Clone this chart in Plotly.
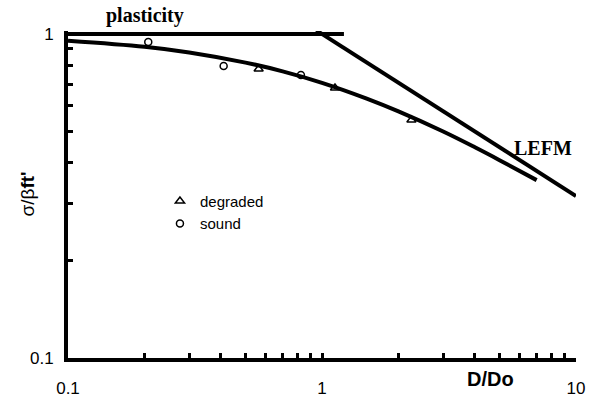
import plotly.graph_objects as go

# size-effect curve
curve_D = [0.1, 0.2, 0.3, 0.5, 0.7, 1.0, 1.5, 2.0, 3.0, 4.0, 5.0, 7.0]
curve_s = [0.953, 0.913, 0.877, 0.816, 0.767, 0.707, 0.632, 0.577, 0.500, 0.447, 0.408, 0.354]

# limit lines
plast_D = [0.1, 1.22]
plast_s = [1.0, 1.0]
lefm_D = [0.95, 10.0]
lefm_s = [1.026, 0.316]

# experimental points
sound_D = [0.207, 0.41, 0.826]
sound_s = [0.945, 0.797, 0.747]
degr_D = [0.563, 1.125, 2.25]
degr_s = [0.78, 0.681, 0.543]

# tick labels
x_tickvals = [0.1, 1, 10]
x_ticktext = ["0.1", "1", "10"]
y_tickvals = [0.1, 1]
y_ticktext = ["0.1", "1"]

fig = go.Figure()
line_style = dict(color="black", width=4)
fig.add_trace(go.Scatter(x=plast_D, y=plast_s, mode="lines", line=line_style,
                         showlegend=False, hoverinfo="skip"))
fig.add_trace(go.Scatter(x=lefm_D, y=lefm_s, mode="lines", line=line_style,
                         showlegend=False, hoverinfo="skip"))
fig.add_trace(go.Scatter(x=curve_D, y=curve_s, mode="lines",
                         line=dict(color="black", width=4, shape="spline"),
                         showlegend=False, hoverinfo="skip"))
fig.add_trace(go.Scatter(x=degr_D, y=degr_s, mode="markers", name="degraded",
                         marker=dict(symbol="triangle-up-open", size=8, color="black",
                                     line=dict(width=1.5, color="black"))))
fig.add_trace(go.Scatter(x=sound_D, y=sound_s, mode="markers", name="sound",
                         marker=dict(symbol="circle-open", size=7, color="black",
                                     line=dict(width=1.5, color="black"))))

top_ext = 3 / 324.0
minor_style = dict(ticks="inside", ticklen=5, tickwidth=3, tickcolor="black", showgrid=False)
fig.update_layout(
    width=596, height=404,
    margin=dict(l=68, r=20, t=31, b=46, autoexpand=False),
    plot_bgcolor="white", paper_bgcolor="white",
    font=dict(family="Liberation Sans, Arial", size=13, color="black"),
    legend=dict(x=0.181, y=0.53, xanchor="left", yanchor="top",
                bgcolor="rgba(0,0,0,0)", font=dict(size=15),
                itemwidth=30, tracegroupgap=0),
    xaxis=dict(type="log", range=[-1, 1], showgrid=False, zeroline=False, automargin=False,
               showline=True, linecolor="black", linewidth=4,
               ticks="inside", ticklen=5, tickwidth=3, tickcolor="black",
               tickvals=x_tickvals, ticktext=x_ticktext,
               minor=dict(tickvals=[0.2, 0.3, 0.4, 0.5, 0.6, 0.7, 0.8, 0.9,
                                    2, 3, 4, 5, 6, 7, 8, 9], **minor_style),
               tickfont=dict(size=17), ticklabelstandoff=12),
    yaxis=dict(type="log", range=[-1, top_ext], showgrid=False, zeroline=False, automargin=False,
               showline=True, linecolor="black", linewidth=4,
               ticks="inside", ticklen=5, tickwidth=3, tickcolor="black",
               tickvals=y_tickvals, ticktext=y_ticktext,
               minor=dict(tickvals=[0.2, 0.3, 0.4, 0.5, 0.6, 0.7, 0.8, 0.9], **minor_style),
               tickfont=dict(size=17), ticklabelstandoff=7),
)

serif = "Liberation Serif, Times New Roman"
sans = "Liberation Sans, Arial"
fig.add_annotation(text="<b>plasticity</b>", xref="paper", yref="paper", x=0.152, y=1.0,
                   xanchor="center", yanchor="middle", yshift=16, showarrow=False,
                   font=dict(family=serif, size=20, color="black"))
fig.add_annotation(text="<b>LEFM</b>", xref="paper", yref="paper", x=0.935, y=0.642,
                   xanchor="center", yanchor="middle", showarrow=False,
                   font=dict(family=serif, size=20, color="black"))
fig.add_annotation(text="<b>D/Do</b>", xref="paper", yref="paper", x=0.831, y=0,
                   xanchor="center", yanchor="middle", yshift=-21, showarrow=False,
                   font=dict(family=sans, size=20, color="black"))
fig.add_annotation(text="σ/β<b>ft'</b>", xref="paper", yref="paper", x=0, xshift=-41,
                   y=0.5, xanchor="center", yanchor="middle", textangle=-90, showarrow=False,
                   font=dict(family=sans, size=19, color="black"))

fig.write_html("out.html")
